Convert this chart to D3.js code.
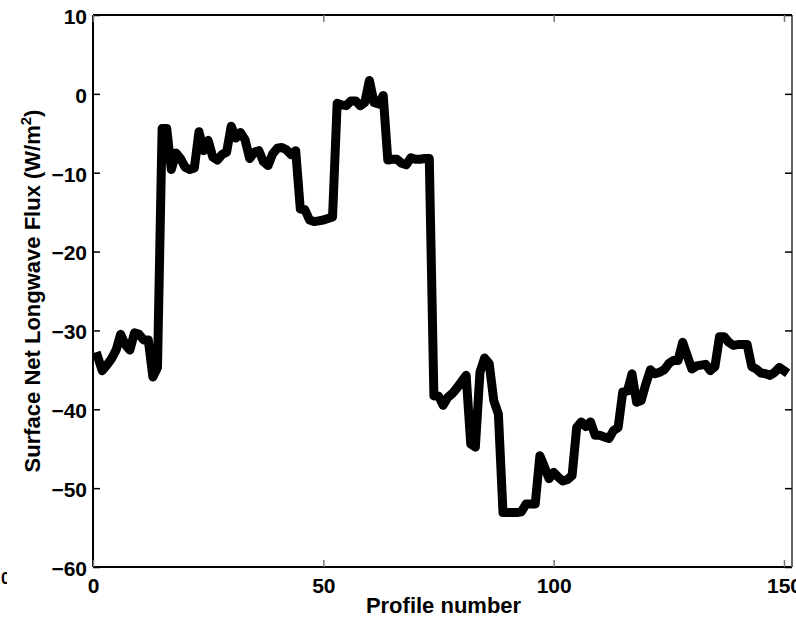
<!DOCTYPE html>
<html>
<head>
<meta charset="utf-8">
<script src="https://cdn.jsdelivr.net/npm/d3@7/dist/d3.min.js"></script>
<style>
  html, body { margin: 0; padding: 0; background: #fff; }
  svg { display: block; }
  text { font-family: "Liberation Sans", Arial, Helvetica, sans-serif; font-weight: bold; fill: #000; }
</style>
</head>
<body>
<svg id="chart" width="796" height="621"></svg>
<script>
// Profile numbers 1..150 and the surface net longwave flux for each (W/m^2)
const profiles = d3.range(1, 151);
const fluxValues = [
  -33.3, -35.1, -34.4, -33.6, -32.5, -30.5, -31.8, -32.5, -30.3, -30.5,
  -31.2, -31.2, -35.9, -34.7, -4.4, -4.4, -9.6, -7.5, -8.2, -9.3,
  -9.6, -9.4, -4.8, -7.2, -5.9, -8.0, -8.4, -7.7, -7.4, -4.1,
  -5.6, -4.9, -5.8, -8.2, -7.4, -7.2, -8.6, -9.1, -7.6, -6.9,
  -6.8, -7.1, -7.7, -7.2, -14.6, -14.7, -16.0, -16.2, -16.1, -16.0,
  -15.8, -15.6, -1.2, -1.4, -1.5, -0.9, -0.9, -1.5, -1.1, 1.7,
  -1.1, -1.3, -0.2, -8.4, -8.3, -8.3, -8.8, -9.0, -8.1, -8.3,
  -8.3, -8.2, -8.2, -38.3, -38.3, -39.5, -38.5, -38.0, -37.3, -36.5,
  -35.7, -44.4, -44.8, -35.3, -33.5, -34.2, -38.9, -40.6, -53.1, -53.1,
  -53.1, -53.1, -53.0, -52.0, -52.0, -52.0, -45.9, -47.3, -48.8, -48.0,
  -48.6, -49.1, -48.9, -48.4, -42.3, -41.6, -42.2, -41.6, -43.3, -43.3,
  -43.5, -43.7, -42.7, -42.3, -37.8, -37.7, -35.5, -39.1, -38.9, -36.8,
  -35.0, -35.5, -35.3, -35.0, -34.2, -33.8, -33.8, -31.5, -33.2, -34.9,
  -34.5, -34.4, -34.3, -35.1, -34.6, -30.8, -30.8, -31.5, -31.9, -31.8,
  -31.8, -31.8, -34.6, -34.9, -35.4, -35.5, -35.7, -35.3, -34.7, -35.1
];
const xTicks = [0, 50, 100, 150];
const yTicks = [10, 0, -10, -20, -30, -40, -50, -60];
const xLabel = "Profile number";
const yLabelMain = "Surface Net Longwave Flux (W/m";
const yLabelSup = "2";

const svg = d3.select("#chart");
const plotLeft = 93, plotRight = 784, plotTop = 15, plotBottom = 567, boxRight = 792;

const x = d3.scaleLinear().domain([0, 150]).range([plotLeft, plotRight]);
const y = d3.scaleLinear().domain([-60, 10]).range([plotBottom, plotTop]);

const fmt = d => (d < 0 ? "\u2212" + Math.abs(d) : String(d));

// Axes box
const box = svg.append("g").attr("fill", "none");
box.append("line").attr("x1", plotLeft).attr("x2", boxRight).attr("y1", plotTop).attr("y2", plotTop)
  .attr("stroke", "#000").attr("stroke-width", 2);
box.append("line").attr("x1", plotLeft).attr("x2", boxRight).attr("y1", plotBottom).attr("y2", plotBottom)
  .attr("stroke", "#000").attr("stroke-width", 2);
box.append("line").attr("x1", plotLeft).attr("x2", plotLeft).attr("y1", plotTop).attr("y2", plotBottom)
  .attr("stroke", "#000").attr("stroke-width", 2);
box.append("line").attr("x1", boxRight).attr("x2", boxRight).attr("y1", plotTop).attr("y2", plotBottom)
  .attr("stroke", "#666").attr("stroke-width", 2);

// Left axis: inward ticks with labels
const yAxis = svg.append("g").attr("transform", `translate(${plotLeft},0)`)
  .call(d3.axisLeft(y).tickValues(yTicks).tickFormat(fmt).tickSize(-7).tickPadding(6));
yAxis.select(".domain").remove();
yAxis.selectAll(".tick line").attr("stroke", "#000").attr("stroke-width", 1.5);
yAxis.selectAll(".tick text").attr("font-size", 21).attr("dy", "0.4em")
  .attr("font-family", "Liberation Sans, Arial, sans-serif").attr("font-weight", "bold");

// Right axis: inward ticks only
const yAxisR = svg.append("g").attr("transform", `translate(${boxRight},0)`)
  .call(d3.axisRight(y).tickValues(yTicks).tickFormat("").tickSize(-7));
yAxisR.select(".domain").remove();
yAxisR.selectAll(".tick line").attr("stroke", "#000").attr("stroke-width", 1.5);

// Bottom axis
const xAxis = svg.append("g").attr("transform", `translate(0,${plotBottom})`)
  .call(d3.axisBottom(x).tickValues(xTicks).tickFormat(d3.format("d")).tickSize(-7).tickPadding(11));
xAxis.select(".domain").remove();
xAxis.selectAll(".tick line").attr("stroke", "#777").attr("stroke-width", 1.5);
xAxis.selectAll(".tick text").attr("font-size", 21)
  .attr("font-family", "Liberation Sans, Arial, sans-serif").attr("font-weight", "bold");

// Top axis: inward ticks only
const xAxisT = svg.append("g").attr("transform", `translate(0,${plotTop})`)
  .call(d3.axisTop(x).tickValues(xTicks).tickFormat("").tickSize(-7));
xAxisT.select(".domain").remove();
xAxisT.selectAll(".tick line").attr("stroke", "#777").attr("stroke-width", 1.5);

// Flux line
const line = d3.line()
  .x((d, i) => x(profiles[i]))
  .y(d => y(d));
svg.append("path")
  .datum(fluxValues)
  .attr("d", line)
  .attr("fill", "none")
  .attr("stroke", "#000")
  .attr("stroke-width", 9)
  .attr("stroke-linejoin", "round")
  .attr("stroke-linecap", "square");

// Axis titles
svg.append("text")
  .attr("x", (plotLeft + plotRight) / 2 + 5)
  .attr("y", 613)
  .attr("text-anchor", "middle")
  .attr("font-size", 22)
  .text(xLabel);

const yt = svg.append("text")
  .attr("transform", `translate(40,${(plotTop + plotBottom) / 2}) rotate(-90)`)
  .attr("text-anchor", "middle")
  .attr("font-size", 22);
yt.append("tspan").text(yLabelMain);
yt.append("tspan").attr("font-size", 15).attr("dy", -9).text(yLabelSup);
yt.append("tspan").attr("dy", 9).text(")");

// Edge of a neighbouring label, cut off at the border
svg.append("clipPath").attr("id", "edgeClip")
  .append("rect").attr("x", 0).attr("y", 560).attr("width", 7).attr("height", 30);
svg.append("text")
  .attr("clip-path", "url(#edgeClip)")
  .attr("x", 1).attr("y", 584)
  .attr("font-size", 17)
  .text("0");
</script>
</body>
</html>
